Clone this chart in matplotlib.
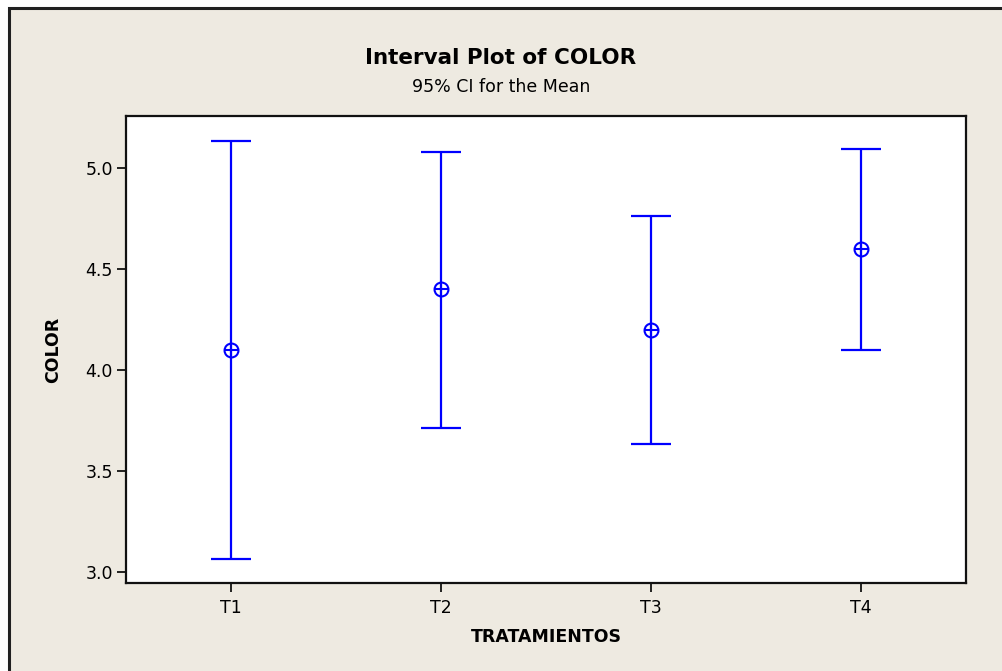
import numpy as np
import matplotlib
matplotlib.use("Agg")
import matplotlib.pyplot as plt
from matplotlib.patches import Rectangle

# 95% CI per treatment
tratamientos = ["T1", "T2", "T3", "T4"]
medias = np.array([4.10, 4.40, 4.20, 4.60])
lim_inf = np.array([3.062, 3.713, 3.635, 4.100])
lim_sup = np.array([5.135, 5.083, 4.764, 5.093])

azul = "#0000ff"
fondo = "#eeeae1"

plt.rcParams["font.family"] = "DejaVu Sans"

fig = plt.figure(figsize=(10.02, 6.71), dpi=100, facecolor="white")

# beige panel with dark frame (runs off the right and bottom edges)
x0 = 9 / 1002
y1 = 1 - 8 / 671
panel = Rectangle((x0, -0.1), 1.2, y1 + 0.1, transform=fig.transFigure,
                  facecolor=fondo, edgecolor="#202020", linewidth=2.2, zorder=-5)
fig.patches.append(panel)

ax = fig.add_axes([126 / 1002, 87.7 / 671, 840 / 1002, 467.3 / 671])
ax.set_facecolor("white")

x = np.arange(len(tratamientos))
yerr = [medias - lim_inf, lim_sup - medias]
ax.errorbar(x, medias, yerr=yerr, fmt="none", ecolor=azul, elinewidth=1.6,
            capsize=14.5, capthick=1.6, zorder=2)
ax.plot(x, medias, "o", markersize=10, markerfacecolor="none",
        markeredgecolor=azul, markeredgewidth=1.5, zorder=3)
ax.plot(x, medias, "+", markersize=10, markeredgecolor=azul,
        markeredgewidth=1.5, zorder=3)

ax.set_xlim(-0.5, 3.5)
ax.set_ylim(2.943, 5.259)
ax.set_xticks(x)
ax.set_xticklabels(tratamientos)
ax.set_yticks([3.0, 3.5, 4.0, 4.5, 5.0])
ax.set_yticklabels(["3.0", "3.5", "4.0", "4.5", "5.0"])
ax.tick_params(direction="out", length=6.5, width=1.2, labelsize=12.5,
               colors="black", pad=3)
ax.tick_params(axis="x", pad=4.5)

for s in ax.spines.values():
    s.set_linewidth(1.6)
    s.set_color("#111111")

ax.set_xlabel("TRATAMIENTOS", fontsize=12.5, fontweight="bold", labelpad=8)
ax.set_ylabel("COLOR", fontsize=12.5, fontweight="bold", labelpad=17)

fig.text(0.5, 1 - 58 / 671, "Interval Plot of COLOR", ha="center", va="center",
         fontsize=15.5, fontweight="bold")
fig.text(0.5, 1 - 87 / 671, "95% CI for the Mean", ha="center", va="center",
         fontsize=12.5)

fig.savefig("out.png", dpi=100, facecolor="white")
